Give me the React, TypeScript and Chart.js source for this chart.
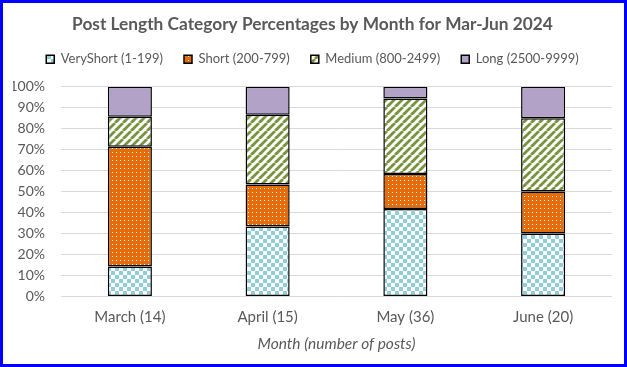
import React, { useEffect, useRef } from "react";
import { Chart, registerables } from "chart.js";

Chart.register(...registerables);

const months = ["March (14)", "April (15)", "May (36)", "June (20)"];
const seriesNames = ["VeryShort (1-199)", "Short (200-799)", "Medium (800-2499)", "Long (2500-9999)"];
const veryShort = [14.29, 33.33, 41.67, 30.0];
const short = [57.14, 20.0, 16.67, 20.0];
const medium = [14.29, 33.33, 36.11, 35.0];
const long = [14.29, 13.33, 5.56, 15.0];
const yTicks = [0, 10, 20, 30, 40, 50, 60, 70, 80, 90, 100];

const FONT = "Lato, 'Open Sans', sans-serif";
const TEXT = "#595959";

function makeChecker(): CanvasPattern | string {
  const c = document.createElement("canvas");
  c.width = 8; c.height = 8;
  const g = c.getContext("2d")!;
  g.fillStyle = "#ffffff"; g.fillRect(0, 0, 8, 8);
  g.fillStyle = "#92CDDC";
  g.fillRect(0, 0, 4, 4); g.fillRect(4, 4, 4, 4);
  return g.createPattern(c, "repeat") || "#92CDDC";
}
function makeDots(): CanvasPattern | string {
  const c = document.createElement("canvas");
  c.width = 8; c.height = 8;
  const g = c.getContext("2d")!;
  g.fillStyle = "#E46C0A"; g.fillRect(0, 0, 8, 8);
  g.fillStyle = "#ffffff";
  g.fillRect(1, 1, 1, 1); g.fillRect(5, 5, 1, 1);
  g.fillRect(5, 1, 1, 1); g.fillRect(1, 5, 1, 1);
  return g.createPattern(c, "repeat") || "#E46C0A";
}
function makeStripes(): CanvasPattern | string {
  const s = 8;
  const c = document.createElement("canvas");
  c.width = s; c.height = s;
  const g = c.getContext("2d")!;
  g.fillStyle = "#ffffff"; g.fillRect(0, 0, s, s);
  g.strokeStyle = "#77933C"; g.lineWidth = 2.8;
  g.beginPath();
  for (let k = -1; k <= 1; k++) {
    g.moveTo(k * s, s);
    g.lineTo(k * s + s, 0);
  }
  g.stroke();
  return g.createPattern(c, "repeat") || "#77933C";
}

const legendSpacing = {
  id: "legendSpacing",
  beforeInit(chart: any) {
    const legend = chart.legend;
    if (!legend) return;
    const fit = legend.fit;
    legend.fit = function () {
      fit.call(this);
      this.height += 11;
    };
  },
};

export default function App() {
  const ref = useRef<HTMLCanvasElement>(null);
  useEffect(() => {
    document.body.style.margin = "0";
    const fills = [makeChecker(), makeDots(), makeStripes(), "#B3A2C7"];
    const values = [veryShort, short, medium, long];
    const chart = new Chart(ref.current!, {
      type: "bar",
      data: {
        labels: months,
        datasets: seriesNames.map((n, i) => ({
          label: n,
          data: values[i],
          backgroundColor: fills[i] as any,
          borderColor: "#000000",
          borderWidth: 1.5,
          borderSkipped: false,
          barPercentage: 0.32,
          categoryPercentage: 1,
        })),
      },
      plugins: [legendSpacing],
      options: {
        animation: false,
        responsive: false,
        devicePixelRatio: 1,
        layout: { padding: { left: 10, right: 12, top: 6, bottom: 11 } },
        plugins: {
          title: {
            display: true,
            text: "Post Length Category Percentages by Month for Mar-Jun 2024",
            color: TEXT,
            font: { family: FONT, size: 17.3, weight: "bold" },
            padding: { top: 5, bottom: -3 },
          },
          legend: {
            position: "top",
            labels: {
              boxWidth: 8,
              boxHeight: 8,
              color: TEXT,
              font: { family: FONT, size: 13 },
              padding: 21,
            },
          },
          tooltip: { enabled: false },
        },
        scales: {
          x: {
            stacked: true,
            grid: { display: false },
            border: { display: false },
            ticks: { color: TEXT, font: { family: FONT, size: 15 }, padding: 4 },
            title: {
              display: true,
              text: "Month (number of posts)",
              color: TEXT,
              font: { family: FONT, size: 15.5, style: "italic" },
              padding: { top: 4, bottom: 0 },
            },
          },
          y: {
            stacked: true,
            min: 0,
            max: 100,
            afterBuildTicks: (axis: any) => {
              axis.ticks = yTicks.map((v) => ({ value: v }));
            },
            afterFit: (axis: any) => {
              axis.width = 48;
            },
            grid: { color: "#D9D9D9", lineWidth: 1, drawTicks: false },
            border: { display: false },
            ticks: {
              color: TEXT,
              font: { family: FONT, size: 14 },
              padding: 16,
              callback: (v: any) => v + "%",
            },
          },
        },
      },
    });
    return () => chart.destroy();
  }, []);
  return (
    <div
      style={{
        position: "fixed",
        left: 0,
        top: 0,
        width: 627,
        height: 367,
        border: "3px solid #0000FF",
        boxSizing: "border-box",
        background: "#fff",
      }}
    >
      <canvas ref={ref} width={621} height={361} style={{ display: "block" }} />
    </div>
  );
}
